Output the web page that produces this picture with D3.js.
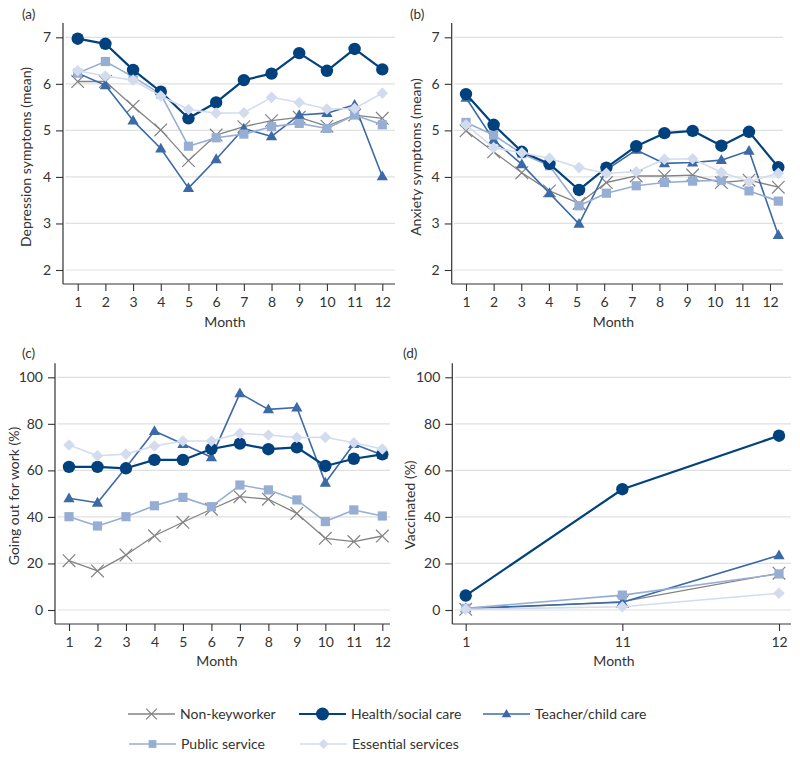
<!DOCTYPE html>
<html><head><meta charset="utf-8">
<script src="https://cdn.jsdelivr.net/npm/d3@7"></script>
<style>
body{margin:0;background:#fff;}
svg text{font-family:Lato,"Open Sans",sans-serif;font-weight:400;fill:#333;}
</style></head><body>
<svg id="chart" width="800" height="758"></svg>
<script>
// ---------- data ----------
const seriesNames = ["Non-keyworker","Health/social care","Teacher/child care","Public service","Essential services"];
const seriesColors = ["#838383","#00417e","#3b6aa6","#97aed4","#d3dcee"];
const seriesSymbols = ["cross","circle","triangle","square","diamond"];
const drawOrder = [0,2,3,1,4];

const monthsA = [1,2,3,4,5,6,7,8,9,10,11,12];
const monthsB = [1,2,3.02,4.02,5.09,6.08,7.16,8.18,9.2,10.24,11.24,12.3];
const monthsC = [1,2,3,4,5,6,7,8,9,10,11,12];
const monthsD = ["1","11","12"];

const ticksSymptoms = [2,3,4,5,6,7];
const ticksPercent = [0,20,40,60,80,100];

// series order: Non-keyworker, Health, Teacher, Public, Essential
const depressionValues = [
  [6.05,6.05,5.52,5.01,4.35,4.90,5.08,5.21,5.28,5.09,5.33,5.26],
  [6.97,6.86,6.30,5.83,5.26,5.60,6.08,6.22,6.66,6.28,6.75,6.31],
  [6.23,5.97,5.21,4.61,3.76,4.38,5.04,4.87,5.33,5.37,5.55,4.01],
  [6.23,6.48,6.15,5.78,4.66,4.84,4.92,5.08,5.15,5.04,5.33,5.12],
  [6.28,6.17,6.08,5.74,5.45,5.37,5.38,5.71,5.60,5.46,5.47,5.80]
];
const anxietyValues = [
  [4.99,4.54,4.09,3.70,3.43,3.88,4.02,4.02,4.04,3.88,3.93,3.78],
  [5.78,5.12,4.54,4.28,3.72,4.20,4.66,4.94,4.99,4.67,4.97,4.21],
  [5.70,4.79,4.27,3.65,2.99,4.15,4.58,4.29,4.31,4.36,4.56,2.75],
  [5.17,4.90,4.50,4.24,3.38,3.65,3.81,3.88,3.91,3.93,3.70,3.48],
  [5.12,4.63,4.52,4.40,4.20,4.08,4.11,4.38,4.39,4.10,3.90,4.08]
];
const workValues = [
  [21.2,16.8,23.6,31.9,37.7,43.3,48.7,47.6,41.5,30.8,29.4,31.8],
  [61.5,61.5,60.9,64.5,64.5,69.2,71.5,69.1,69.9,61.9,65.0,66.9],
  [48.0,46.1,61.2,76.9,71.3,65.6,93.1,86.2,87.0,54.7,71.3,66.6],
  [40.1,36.1,40.1,44.8,48.4,44.4,53.7,51.6,47.3,38.0,43.0,40.4],
  [70.9,66.3,67.0,70.5,72.6,72.6,75.9,75.2,74.1,74.2,71.9,69.2]
];
const vaccinatedValues = [
  [0.3,3.6,15.8],
  [6.2,51.9,74.9],
  [0.7,3.3,23.5],
  [0.7,6.4,15.5],
  [0.3,1.4,7.2]
];

// ---------- layout ----------
const svg = d3.select("#chart");

const panels = [
  {tag:"(a)", title:"Depression symptoms (mean)", values:depressionValues, xs:monthsA, xticks:monthsA,
   axisX:63, top:23, right:395, axisY:284, x0:77.7, x1:382.3, yDom:[2,7], yR:[270,37.3], yTicks:ticksSymptoms,
   tagX:22, tagY:19, titleX:31, titleY:157, monthX:225, monthY:327, type:"linear"},
  {tag:"(b)", title:"Anxiety symptoms (mean)", values:anxietyValues, xs:monthsB, xticks:monthsA,
   axisX:451.7, top:23, right:783, axisY:284, x0:466, x1:770, yDom:[2,7], yR:[270,37.3], yTicks:ticksSymptoms,
   tagX:410, tagY:19, titleX:421, titleY:157, monthX:613.5, monthY:327, type:"linear"},
  {tag:"(c)", title:"Going out for work (%)", values:workValues, xs:monthsC, xticks:monthsC,
   axisX:55, top:363.3, right:390, axisY:624, x0:69, x1:382.3, yDom:[0,100], yR:[610,377.3], yTicks:ticksPercent,
   tagX:22, tagY:358, titleX:19, titleY:496, monthX:217, monthY:666, type:"linear"},
  {tag:"(d)", title:"Vaccinated (%)", values:vaccinatedValues, xs:monthsD, xticks:monthsD,
   axisX:452.3, top:363.3, right:791, axisY:624, x0:465.7, x1:779, yDom:[0,100], yR:[610,377.3], yTicks:ticksPercent,
   tagX:403, tagY:358, titleX:415, titleY:505, monthX:614, monthY:666, type:"point"}
];

const widths = [1.3,2.2,1.6,1.6,1.6];

function drawSymbol(g, sym, color, s) {
  s = s || 1;
  if (sym === "circle") {
    g.append("circle").attr("r", 6.2*s).attr("fill", color);
  } else if (sym === "triangle") {
    const w = 5.6*s, h = 9.8*s;
    g.append("path").attr("d", `M0,${-h*0.6}L${w},${h*0.4}L${-w},${h*0.4}Z`).attr("fill", color);
  } else if (sym === "square") {
    const a = 4.6*s;
    g.append("rect").attr("x",-a).attr("y",-a).attr("width",2*a).attr("height",2*a).attr("fill", color);
  } else if (sym === "diamond") {
    const a = 5.8*s;
    g.append("path").attr("d", `M0,${-a}L${a},0L0,${a}L${-a},0Z`).attr("fill", color);
  } else if (sym === "cross") {
    const a = 6.3*s;
    g.append("path").attr("d", `M${-a},${-a}L${a},${a}M${-a},${a}L${a},${-a}`)
      .attr("stroke", color).attr("stroke-width", 1.2).attr("fill","none");
  }
}

panels.forEach(p => {
  const g = svg.append("g");
  const x = p.type === "point"
    ? d3.scalePoint().domain(p.xticks).range([p.x0, p.x1])
    : d3.scaleLinear().domain([1,12]).range([p.x0, p.x1]);
  const y = d3.scaleLinear().domain(p.yDom).range(p.yR);

  // gridlines
  g.append("g").selectAll("line").data(p.yTicks).join("line")
    .attr("x1", p.axisX + 2.5).attr("x2", p.right)
    .attr("y1", d => y(d)).attr("y2", d => y(d))
    .attr("stroke", "#e0e0e0").attr("stroke-width", 1.2);

  // y axis
  const ya = g.append("g").attr("transform", `translate(${p.axisX},0)`)
    .call(d3.axisLeft(y).tickValues(p.yTicks).tickFormat(d3.format("d")).tickSize(7).tickPadding(5).tickSizeOuter(0));
  ya.select(".domain").remove();
  ya.append("line").attr("x1",0).attr("x2",0).attr("y1",p.top).attr("y2",p.axisY).attr("stroke","#333").attr("stroke-width",1.2);
  ya.selectAll(".tick line").attr("stroke","#333").attr("stroke-width",1.1);
  ya.selectAll(".tick text").style("font-size","14px").attr("fill","#333");

  // x axis
  const xa = g.append("g").attr("transform", `translate(0,${p.axisY})`)
    .call(d3.axisBottom(x).tickValues(p.xticks).tickSize(7).tickPadding(6).tickSizeOuter(0));
  xa.select(".domain").remove();
  xa.append("line").attr("x1",p.axisX).attr("x2",p.right).attr("y1",0).attr("y2",0).attr("stroke","#333").attr("stroke-width",1.2);
  xa.selectAll(".tick line").attr("stroke","#333").attr("stroke-width",1.1);
  xa.selectAll(".tick text").style("font-size","14px").attr("fill","#333");

  // labels
  g.append("text").attr("x", p.tagX).attr("y", p.tagY).style("font-size","13.5px").text(p.tag);
  g.append("text").attr("transform", `translate(${p.titleX},${p.titleY}) rotate(-90)`)
    .attr("text-anchor","middle").style("font-size","14px").text(p.title);
  g.append("text").attr("x", p.monthX).attr("y", p.monthY).attr("text-anchor","middle")
    .style("font-size","14px").text("Month");

  // series
  drawOrder.forEach(si => {
    const vals = p.values[si];
    const pts = vals.map((v,i) => [x(p.xs[i]), y(v)]);
    g.append("path").attr("d", d3.line()(pts)).attr("fill","none")
      .attr("stroke", seriesColors[si]).attr("stroke-width", widths[si]).attr("stroke-linejoin","round");
    pts.forEach(pt => {
      const m = g.append("g").attr("transform", `translate(${pt[0]},${pt[1]})`);
      drawSymbol(m, seriesSymbols[si], seriesColors[si], 1);
    });
  });
});

// legend
const legendPos = [
  {lx:128, ly:714}, {lx:299, ly:714}, {lx:483, ly:714},
  {lx:129, ly:744}, {lx:300, ly:744}
];
seriesNames.forEach((name, si) => {
  const lp = legendPos[si];
  const g = svg.append("g").attr("transform", `translate(${lp.lx},${lp.ly})`);
  g.append("line").attr("x1",0).attr("x2",47).attr("y1",0).attr("y2",0)
    .attr("stroke", seriesColors[si]).attr("stroke-width", widths[si]);
  const m = g.append("g").attr("transform","translate(23.5,0)");
  drawSymbol(m, seriesSymbols[si], seriesColors[si], si===1 ? 1.05 : 0.85);
  g.append("text").attr("x", 52).attr("y", 0).attr("dy","0.35em").style("font-size","14px").text(name);
});
</script>
</body></html>
